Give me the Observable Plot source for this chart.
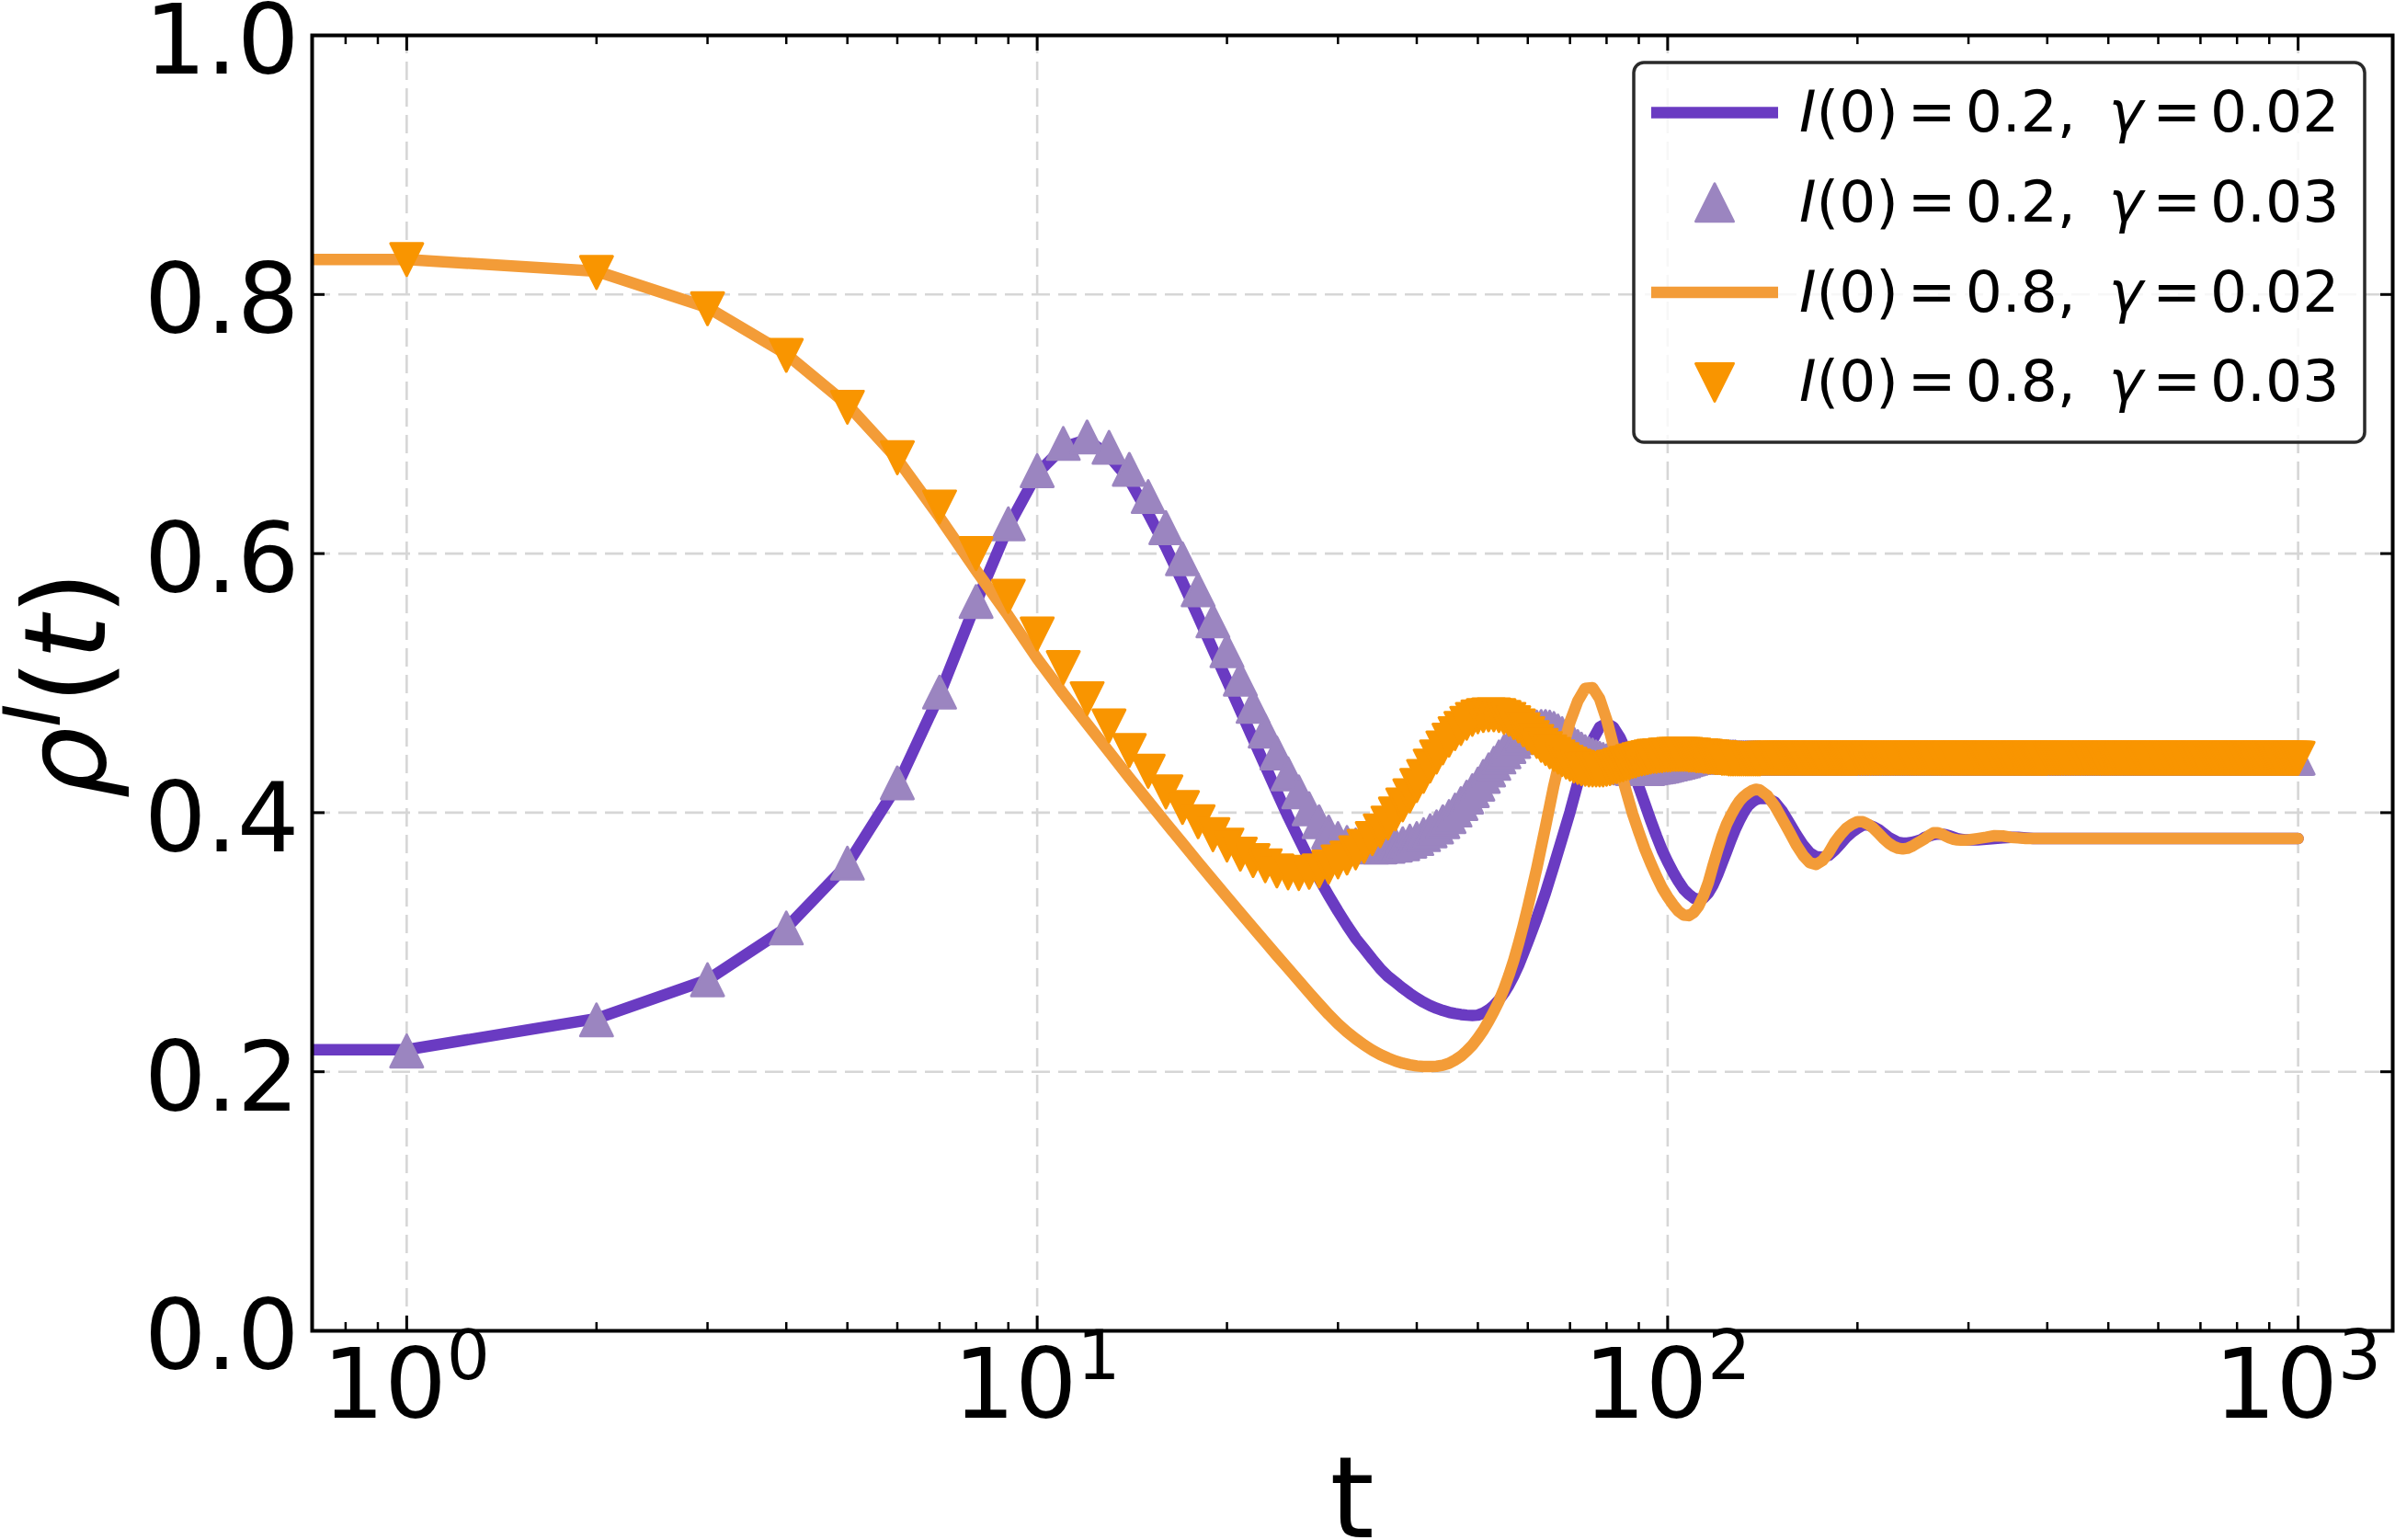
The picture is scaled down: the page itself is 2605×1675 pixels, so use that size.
<!DOCTYPE html>
<html>
<head>
<meta charset="utf-8">
<script src="https://cdn.jsdelivr.net/npm/d3@7"></script>
<script src="https://cdn.jsdelivr.net/npm/@observablehq/plot@0.6"></script>
<style>
  html, body { margin: 0; padding: 0; background: #fff; overflow: hidden; }
</style>
</head>
<body>
<div id="chart"></div>
<script>
// ---------------------------------------------------------------------------
// Infected density rho^I(t) for two initial conditions and two recovery rates
// ---------------------------------------------------------------------------

// Sample times of the solid curves (t = 0 is pinned to the left edge of the log axis)
const tLine = [0, ...d3.range(1, 61), ...d3.range(62, 141, 2), ...d3.range(144, 301, 4),
  ...d3.range(310, 401, 10), 450, 500, 600, 700, 800, 900, 1000];

// Sample times of the triangle markers
const tMarker = [...d3.range(1, 201), ...d3.range(202, 401, 2), ...d3.range(404, 1001, 4)];

// I(0) = 0.2, gamma = 0.02 (solid purple)
const rhoLowSlow = [
  0.217,
  0.217, 0.241, 0.271, 0.311, 0.360, 0.421, 0.491, 0.562, 0.621, 0.662,   // t 1-10
  0.682, 0.688, 0.6755, 0.657, 0.631, 0.605, 0.578, 0.5515, 0.526, 0.502, // t 11-20
  0.479, 0.457, 0.436, 0.416, 0.397, 0.380, 0.364, 0.349, 0.336, 0.324,   // t 21-30
  0.313, 0.303, 0.295, 0.287, 0.2796, 0.2736, 0.269, 0.2645, 0.2604, 0.2568, // t 31-40
  0.2537, 0.2511, 0.249, 0.2473, 0.2459, 0.2449, 0.2442, 0.2437, 0.2435, 0.2437, // t 41-50
  0.2453, 0.2477, 0.2511, 0.2554, 0.2607, 0.2669, 0.2741, 0.282, 0.291, 0.300, // t 51-60
  0.3185, 0.338, 0.359, 0.380, 0.4005, 0.4225, 0.442, 0.456, 0.466, 0.469, // t 62-80
  0.466, 0.458, 0.447, 0.434, 0.420, 0.407, 0.394, 0.382, 0.371, 0.362,   // t 82-100
  0.354, 0.347, 0.341, 0.337, 0.334, 0.333, 0.334, 0.338, 0.344, 0.352,   // t 102-120
  0.361, 0.370, 0.379, 0.387, 0.394, 0.400, 0.405, 0.408, 0.410, 0.411,   // t 122-140
  0.411, 0.408, 0.401, 0.392, 0.383, 0.375, 0.369, 0.366, 0.3655, 0.367,  // t 144-180
  0.371, 0.376, 0.381, 0.385, 0.388, 0.3905, 0.3905, 0.389, 0.387, 0.384, // t 184-220
  0.381, 0.379, 0.377, 0.3765, 0.3765, 0.377, 0.378, 0.379, 0.381, 0.382, // t 224-260
  0.383, 0.3835, 0.3835, 0.383, 0.382, 0.381, 0.380, 0.3795, 0.379, 0.379, // t 264-300
  0.379, 0.3795, 0.380, 0.3805, 0.381, 0.381, 0.3805, 0.380, 0.380, 0.380, // t 310-400
  0.380, 0.380, 0.380, 0.380, 0.380, 0.380, 0.380                          // t 450-1000
];

// I(0) = 0.8, gamma = 0.02 (solid orange)
const rhoHighSlow = [
  0.827,
  0.827, 0.818, 0.790, 0.754, 0.715, 0.673, 0.628, 0.587, 0.552, 0.519,   // t 1-10
  0.492, 0.4685, 0.447, 0.427, 0.409, 0.392, 0.3765, 0.3617, 0.348, 0.335, // t 11-20
  0.3227, 0.3112, 0.3002, 0.2897, 0.2798, 0.2702, 0.261, 0.2523, 0.2442, 0.237, // t 21-30
  0.2308, 0.2254, 0.2207, 0.2167, 0.2133, 0.2106, 0.2083, 0.2066, 0.2054, 0.2045, // t 31-40
  0.2041, 0.204, 0.2042, 0.205, 0.2065, 0.209, 0.212, 0.216, 0.2205, 0.226, // t 41-50
  0.232, 0.239, 0.2465, 0.2545, 0.264, 0.2745, 0.286, 0.299, 0.3125, 0.327, // t 51-60
  0.357, 0.389, 0.421, 0.448, 0.470, 0.486, 0.496, 0.4965, 0.488, 0.472,  // t 62-80
  0.452, 0.434, 0.416, 0.399, 0.385, 0.372, 0.361, 0.351, 0.342, 0.335,   // t 82-100
  0.329, 0.324, 0.321, 0.3205, 0.323, 0.328, 0.336, 0.346, 0.359, 0.371,  // t 102-120
  0.382, 0.391, 0.398, 0.404, 0.409, 0.4125, 0.415, 0.417, 0.418, 0.4175, // t 122-140
  0.413, 0.405, 0.395, 0.385, 0.375, 0.367, 0.3615, 0.360, 0.363, 0.369,  // t 144-180
  0.377, 0.383, 0.388, 0.391, 0.393, 0.393, 0.391, 0.388, 0.384, 0.380,   // t 184-220
  0.3765, 0.374, 0.3725, 0.372, 0.3725, 0.374, 0.376, 0.378, 0.380, 0.3825, // t 224-260
  0.3845, 0.3845, 0.3835, 0.382, 0.3805, 0.3795, 0.379, 0.3788, 0.3788, 0.379, // t 264-300
  0.380, 0.381, 0.3822, 0.382, 0.381, 0.3805, 0.380, 0.380, 0.380, 0.380, // t 310-400
  0.380, 0.380, 0.380, 0.380, 0.380, 0.380, 0.380                         // t 450-1000
];

// I(0) = 0.2, gamma = 0.03 (lavender up-triangles)
const rhoLowFast = [
  0.216, 0.240, 0.271, 0.311, 0.361, 0.423, 0.493, 0.563, 0.623, 0.664,   // t 1-10
  0.685, 0.690, 0.682, 0.665, 0.644, 0.620, 0.596, 0.572, 0.548, 0.525,   // t 11-20
  0.503, 0.482, 0.463, 0.446, 0.430, 0.416, 0.403, 0.393, 0.385, 0.380,   // t 21-30
  0.377, 0.375, 0.374, 0.3735, 0.3735, 0.374, 0.375, 0.376, 0.378, 0.380, // t 31-40
  0.383, 0.386, 0.389, 0.393, 0.397, 0.402, 0.407, 0.412, 0.417, 0.422,   // t 41-50
  0.428, 0.433, 0.438, 0.443, 0.447, 0.451, 0.455, 0.458, 0.461, 0.463,   // t 51-60
  0.465, 0.466, 0.4665, 0.4665, 0.466, 0.465, 0.463, 0.461, 0.458, 0.456, // t 61-70
  0.453, 0.451, 0.449, 0.447, 0.4455, 0.4445, 0.443, 0.442, 0.441, 0.440, // t 71-80
  0.439, 0.438, 0.437, 0.436, 0.4355, 0.435, 0.4345, 0.434, 0.434, 0.434, // t 81-90
  0.434, 0.434, 0.434, 0.4345, 0.435, 0.4353, 0.4356, 0.436, 0.4365, 0.437, // t 91-100
  0.4375, 0.438, 0.4385, 0.439, 0.4395, 0.440, 0.441, 0.4415, 0.442, 0.4425, // t 101-110
  0.443, 0.443, 0.443, 0.4435, 0.4435, 0.4435, 0.4435, 0.4435, 0.4435, 0.4435, // t 111-120
  0.4435, 0.443, 0.443, 0.443, 0.443, 0.443, 0.443, 0.443, 0.4425, 0.4425, // t 121-130
  0.4425, 0.4425, 0.4425, 0.4425, 0.4425, 0.4425, 0.4425, 0.4425, 0.4425, 0.4425, // t 131-140
  0.442, 0.442, 0.442, 0.442, 0.442, 0.442, 0.442, 0.442, 0.442, 0.442,   // t 141-150
  0.442, 0.442, 0.442, 0.442, 0.442, 0.442, 0.442, 0.442, 0.442, 0.442,   // t 151-160
  0.442, 0.442, 0.442, 0.442, 0.442, 0.442, 0.442, 0.442, 0.442, 0.442,   // t 161-170
  0.442, 0.442, 0.442, 0.442, 0.442, 0.442, 0.442, 0.442, 0.442, 0.442,   // t 171-180
  0.442, 0.442, 0.442, 0.442, 0.442, 0.442, 0.442, 0.442, 0.442, 0.442,   // t 181-190
  0.442, 0.442, 0.442, 0.442, 0.442, 0.442, 0.442, 0.442, 0.442, 0.442,   // t 191-200
  0.442, 0.442, 0.442, 0.442, 0.442, 0.442, 0.442, 0.442, 0.442, 0.442,   // t 202-220
  0.442, 0.442, 0.442, 0.442, 0.442, 0.442, 0.442, 0.442, 0.442, 0.442,   // t 222-240
  0.442, 0.442, 0.442, 0.442, 0.442, 0.442, 0.442, 0.442, 0.442, 0.442,   // t 242-260
  0.442, 0.442, 0.442, 0.442, 0.442, 0.442, 0.442, 0.442, 0.442, 0.442,   // t 262-280
  0.442, 0.442, 0.442, 0.442, 0.442, 0.442, 0.442, 0.442, 0.442, 0.442,   // t 282-300
  0.442, 0.442, 0.442, 0.442, 0.442, 0.442, 0.442, 0.442, 0.442, 0.442,   // t 302-320
  0.442, 0.442, 0.442, 0.442, 0.442, 0.442, 0.442, 0.442, 0.442, 0.442,   // t 322-340
  0.442, 0.442, 0.442, 0.442, 0.442, 0.442, 0.442, 0.442, 0.442, 0.442,   // t 342-360
  0.442, 0.442, 0.442, 0.442, 0.442, 0.442, 0.442, 0.442, 0.442, 0.442,   // t 362-380
  0.442, 0.442, 0.442, 0.442, 0.442, 0.442, 0.442, 0.442, 0.442, 0.442,   // t 382-400
  0.442, 0.442, 0.442, 0.442, 0.442, 0.442, 0.442, 0.442, 0.442, 0.442,   // t 404-440
  0.442, 0.442, 0.442, 0.442, 0.442, 0.442, 0.442, 0.442, 0.442, 0.442,   // t 444-480
  0.442, 0.442, 0.442, 0.442, 0.442, 0.442, 0.442, 0.442, 0.442, 0.442,   // t 484-520
  0.442, 0.442, 0.442, 0.442, 0.442, 0.442, 0.442, 0.442, 0.442, 0.442,   // t 524-560
  0.442, 0.442, 0.442, 0.442, 0.442, 0.442, 0.442, 0.442, 0.442, 0.442,   // t 564-600
  0.442, 0.442, 0.442, 0.442, 0.442, 0.442, 0.442, 0.442, 0.442, 0.442,   // t 604-640
  0.442, 0.442, 0.442, 0.442, 0.442, 0.442, 0.442, 0.442, 0.442, 0.442,   // t 644-680
  0.442, 0.442, 0.442, 0.442, 0.442, 0.442, 0.442, 0.442, 0.442, 0.442,   // t 684-720
  0.442, 0.442, 0.442, 0.442, 0.442, 0.442, 0.442, 0.442, 0.442, 0.442,   // t 724-760
  0.442, 0.442, 0.442, 0.442, 0.442, 0.442, 0.442, 0.442, 0.442, 0.442,   // t 764-800
  0.442, 0.442, 0.442, 0.442, 0.442, 0.442, 0.442, 0.442, 0.442, 0.442,   // t 804-840
  0.442, 0.442, 0.442, 0.442, 0.442, 0.442, 0.442, 0.442, 0.442, 0.442,   // t 844-880
  0.442, 0.442, 0.442, 0.442, 0.442, 0.442, 0.442, 0.442, 0.442, 0.442,   // t 884-920
  0.442, 0.442, 0.442, 0.442, 0.442, 0.442, 0.442, 0.442, 0.442, 0.442,   // t 924-960
  0.442, 0.442, 0.442, 0.442, 0.442, 0.442, 0.442, 0.442, 0.442, 0.442    // t 964-1000
];

// I(0) = 0.8, gamma = 0.03 (orange down-triangles)
const rhoHighFast = [
  0.827, 0.817, 0.789, 0.753, 0.713, 0.674, 0.636, 0.600, 0.567, 0.538,   // t 1-10
  0.512, 0.488, 0.467, 0.448, 0.432, 0.416, 0.404, 0.393, 0.383, 0.375,   // t 11-20
  0.368, 0.363, 0.359, 0.355, 0.3535, 0.353, 0.354, 0.355, 0.358, 0.362,  // t 21-30
  0.365, 0.369, 0.374, 0.380, 0.386, 0.392, 0.399, 0.406, 0.413, 0.421,   // t 31-40
  0.428, 0.436, 0.443, 0.450, 0.456, 0.461, 0.465, 0.469, 0.472, 0.474,   // t 41-50
  0.475, 0.4755, 0.4755, 0.475, 0.4735, 0.472, 0.4695, 0.467, 0.464, 0.461, // t 51-60
  0.458, 0.455, 0.452, 0.4495, 0.447, 0.445, 0.443, 0.441, 0.439, 0.4375, // t 61-70
  0.436, 0.435, 0.434, 0.4335, 0.433, 0.433, 0.433, 0.433, 0.433, 0.4335, // t 71-80
  0.434, 0.435, 0.4355, 0.4365, 0.437, 0.438, 0.4385, 0.4395, 0.440, 0.441, // t 81-90
  0.4415, 0.442, 0.4425, 0.443, 0.4435, 0.4435, 0.444, 0.444, 0.4445, 0.4445, // t 91-100
  0.4445, 0.445, 0.445, 0.445, 0.445, 0.445, 0.445, 0.4445, 0.4445, 0.4445, // t 101-110
  0.444, 0.444, 0.444, 0.4435, 0.4435, 0.443, 0.443, 0.443, 0.4425, 0.4425, // t 111-120
  0.4425, 0.442, 0.442, 0.442, 0.4415, 0.4415, 0.4415, 0.4415, 0.4415, 0.4415, // t 121-130
  0.4415, 0.4415, 0.4415, 0.4415, 0.4415, 0.4415, 0.4415, 0.4415, 0.4415, 0.4415, // t 131-140
  0.442, 0.442, 0.442, 0.442, 0.442, 0.442, 0.442, 0.442, 0.442, 0.442,   // t 141-150
  0.442, 0.442, 0.442, 0.442, 0.442, 0.442, 0.442, 0.442, 0.442, 0.442,   // t 151-160
  0.442, 0.442, 0.442, 0.442, 0.442, 0.442, 0.442, 0.442, 0.442, 0.442,   // t 161-170
  0.442, 0.442, 0.442, 0.442, 0.442, 0.442, 0.442, 0.442, 0.442, 0.442,   // t 171-180
  0.442, 0.442, 0.442, 0.442, 0.442, 0.442, 0.442, 0.442, 0.442, 0.442,   // t 181-190
  0.442, 0.442, 0.442, 0.442, 0.442, 0.442, 0.442, 0.442, 0.442, 0.442,   // t 191-200
  0.442, 0.442, 0.442, 0.442, 0.442, 0.442, 0.442, 0.442, 0.442, 0.442,   // t 202-220
  0.442, 0.442, 0.442, 0.442, 0.442, 0.442, 0.442, 0.442, 0.442, 0.442,   // t 222-240
  0.442, 0.442, 0.442, 0.442, 0.442, 0.442, 0.442, 0.442, 0.442, 0.442,   // t 242-260
  0.442, 0.442, 0.442, 0.442, 0.442, 0.442, 0.442, 0.442, 0.442, 0.442,   // t 262-280
  0.442, 0.442, 0.442, 0.442, 0.442, 0.442, 0.442, 0.442, 0.442, 0.442,   // t 282-300
  0.442, 0.442, 0.442, 0.442, 0.442, 0.442, 0.442, 0.442, 0.442, 0.442,   // t 302-320
  0.442, 0.442, 0.442, 0.442, 0.442, 0.442, 0.442, 0.442, 0.442, 0.442,   // t 322-340
  0.442, 0.442, 0.442, 0.442, 0.442, 0.442, 0.442, 0.442, 0.442, 0.442,   // t 342-360
  0.442, 0.442, 0.442, 0.442, 0.442, 0.442, 0.442, 0.442, 0.442, 0.442,   // t 362-380
  0.442, 0.442, 0.442, 0.442, 0.442, 0.442, 0.442, 0.442, 0.442, 0.442,   // t 382-400
  0.442, 0.442, 0.442, 0.442, 0.442, 0.442, 0.442, 0.442, 0.442, 0.442,   // t 404-440
  0.442, 0.442, 0.442, 0.442, 0.442, 0.442, 0.442, 0.442, 0.442, 0.442,   // t 444-480
  0.442, 0.442, 0.442, 0.442, 0.442, 0.442, 0.442, 0.442, 0.442, 0.442,   // t 484-520
  0.442, 0.442, 0.442, 0.442, 0.442, 0.442, 0.442, 0.442, 0.442, 0.442,   // t 524-560
  0.442, 0.442, 0.442, 0.442, 0.442, 0.442, 0.442, 0.442, 0.442, 0.442,   // t 564-600
  0.442, 0.442, 0.442, 0.442, 0.442, 0.442, 0.442, 0.442, 0.442, 0.442,   // t 604-640
  0.442, 0.442, 0.442, 0.442, 0.442, 0.442, 0.442, 0.442, 0.442, 0.442,   // t 644-680
  0.442, 0.442, 0.442, 0.442, 0.442, 0.442, 0.442, 0.442, 0.442, 0.442,   // t 684-720
  0.442, 0.442, 0.442, 0.442, 0.442, 0.442, 0.442, 0.442, 0.442, 0.442,   // t 724-760
  0.442, 0.442, 0.442, 0.442, 0.442, 0.442, 0.442, 0.442, 0.442, 0.442,   // t 764-800
  0.442, 0.442, 0.442, 0.442, 0.442, 0.442, 0.442, 0.442, 0.442, 0.442,   // t 804-840
  0.442, 0.442, 0.442, 0.442, 0.442, 0.442, 0.442, 0.442, 0.442, 0.442,   // t 844-880
  0.442, 0.442, 0.442, 0.442, 0.442, 0.442, 0.442, 0.442, 0.442, 0.442,   // t 884-920
  0.442, 0.442, 0.442, 0.442, 0.442, 0.442, 0.442, 0.442, 0.442, 0.442,   // t 924-960
  0.442, 0.442, 0.442, 0.442, 0.442, 0.442, 0.442, 0.442, 0.442, 0.442    // t 964-1000
];

// Legend entries (initial infected fraction and recovery rate)
const legendI0 = ["0.2", "0.2", "0.8", "0.8"];
const legendGamma = ["0.02", "0.03", "0.02", "0.03"];

// Axis ticks
const xMajorTicks = [1, 10, 100, 1000];
const xTickExponents = [0, 1, 2, 3];
const xMinorTicks = [0.8, 0.9, 2, 3, 4, 5, 6, 7, 8, 9, 20, 30, 40, 50, 60, 70, 80, 90,
  200, 300, 400, 500, 600, 700, 800, 900];
const yTicks = [0, 0.2, 0.4, 0.6, 0.8, 1.0];

// ---------------------------------------------------------------------------
const colors = {
  lowSlow: "#6a3bc2",
  lowFast: "#9b85c0",
  highSlow: "#f39c38",
  highFast: "#f99500"
};

for (const [name, arr, ts] of [["rhoLowSlow", rhoLowSlow, tLine], ["rhoHighSlow", rhoHighSlow, tLine],
  ["rhoLowFast", rhoLowFast, tMarker], ["rhoHighFast", rhoHighFast, tMarker]]) {
  if (arr.length !== ts.length) throw new Error(`${name}: ${arr.length} values for ${ts.length} times`);
}

const zip = (ts, vs) => ts.map((t, i) => ({t, rho: vs[i]}));
const lowSlow = zip(tLine, rhoLowSlow);
const highSlow = zip(tLine, rhoHighSlow);
const lowFast = zip(tMarker, rhoLowFast);
const highFast = zip(tMarker, rhoHighFast);

// Triangles with equal width and height, centred on their bounding box
const triangleUp = {
  draw(ctx, size) {
    const h = Math.sqrt(size / Math.PI);
    ctx.moveTo(0, -h); ctx.lineTo(h, h); ctx.lineTo(-h, h); ctx.closePath();
  }
};
const triangleDown = {
  draw(ctx, size) {
    const h = Math.sqrt(size / Math.PI);
    ctx.moveTo(0, h); ctx.lineTo(h, -h); ctx.lineTo(-h, -h); ctx.closePath();
  }
};

// t = 0 cannot sit on a log axis: clip it far to the left, as a log plot does
const xTime = d => (d.t > 0 ? d.t : 1e-3);

const gridStyle = {stroke: "#d6d6d6", strokeOpacity: 1, strokeWidth: 2.6, strokeDasharray: "20,9"};
const markerR = 17.5;
const lineWidth = 12.5;

const chart = Plot.plot({
  width: 2605,
  height: 1675,
  marginLeft: 339,
  marginRight: 3,
  marginTop: 38,
  marginBottom: 228,
  style: {fontFamily: "DejaVu Sans", fontSize: "106px", color: "black", background: "white"},
  x: {type: "log", domain: [10 ** -0.15, 10 ** 3.15], label: null},
  y: {domain: [0, 1], label: null},
  marks: [
    Plot.gridX(xMajorTicks, gridStyle),
    Plot.gridY(yTicks.slice(1, -1), gridStyle),

    Plot.line(lowSlow, {x: xTime, y: "rho", stroke: colors.lowSlow, strokeWidth: lineWidth, clip: true}),
    Plot.dot(lowFast, {x: "t", y: "rho", symbol: triangleUp, r: markerR, fill: colors.lowFast,
      stroke: colors.lowFast, strokeWidth: 3, strokeLinejoin: "round", clip: true}),
    Plot.line(highSlow, {x: xTime, y: "rho", stroke: colors.highSlow, strokeWidth: lineWidth, clip: true}),
    Plot.dot(highFast, {x: "t", y: "rho", symbol: triangleDown, r: markerR, fill: colors.highFast,
      stroke: colors.highFast, strokeWidth: 3, strokeLinejoin: "round", clip: true}),

    Plot.frame({stroke: "black", strokeWidth: 4}),

    // inward ticks on all four sides
    Plot.axisX(xMajorTicks, {anchor: "bottom", tickSize: -16, strokeWidth: 3, fill: "none", label: null}),
    Plot.axisX(xMajorTicks, {anchor: "top", tickSize: -16, strokeWidth: 3, fill: "none", label: null}),
    Plot.axisX(xMinorTicks, {anchor: "bottom", tickSize: -9, strokeWidth: 2.5, fill: "none", label: null}),
    Plot.axisX(xMinorTicks, {anchor: "top", tickSize: -9, strokeWidth: 2.5, fill: "none", label: null}),
    Plot.axisY(yTicks, {anchor: "left", tickSize: -14, strokeWidth: 3, fill: "none", label: null}),
    Plot.axisY(yTicks, {anchor: "right", tickSize: -14, strokeWidth: 3, fill: "none", label: null}),

    // y tick labels
    Plot.axisY(yTicks, {anchor: "left", tickSize: 0, tickPadding: 14, tickFormat: d3.format(".1f"),
      fontSize: 106, dy: 8, label: null})
  ]
});

document.getElementById("chart").appendChild(chart);

const svg = d3.select(chart);
const sx = chart.scale("x");
const font = "DejaVu Sans";

// x tick labels 10^k
const xLabels = svg.append("g").attr("font-family", font).attr("fill", "black");
xMajorTicks.forEach((v, i) => {
  const t = xLabels.append("text")
    .attr("x", sx.apply(v)).attr("y", 1542)
    .attr("text-anchor", "middle").attr("font-size", 106);
  t.append("tspan").text("10");
  t.append("tspan").attr("font-size", 74).attr("dy", -42).text(String(xTickExponents[i]));
});

// axis titles
svg.append("text")
  .attr("x", (339 + 2602) / 2).attr("y", 1672)
  .attr("text-anchor", "middle").attr("font-family", font).attr("font-size", 123)
  .text("t");

const yTitle = svg.append("text")
  .attr("transform", "translate(114,745) rotate(-90)")
  .attr("text-anchor", "middle").attr("font-family", font).attr("font-size", 123);
yTitle.append("tspan").attr("font-style", "italic").text("ρ");
yTitle.append("tspan").attr("font-style", "italic").attr("font-size", 86).attr("dy", -49).text("I");
yTitle.append("tspan").attr("dy", 49).text("(");
yTitle.append("tspan").attr("font-style", "italic").text("t");
yTitle.append("tspan").text(")");

// legend
const legend = svg.append("g").attr("font-family", font).attr("text-anchor", "start");
legend.append("rect")
  .attr("x", 1777).attr("y", 68).attr("width", 795).attr("height", 413).attr("rx", 11)
  .attr("fill", "white").attr("fill-opacity", 0.8)
  .attr("stroke", "#2a2a2a").attr("stroke-width", 3.5);

const legendHandles = [
  {kind: "line", color: colors.lowSlow},
  {kind: "marker", color: colors.lowFast, symbol: triangleUp},
  {kind: "line", color: colors.highSlow},
  {kind: "marker", color: colors.highFast, symbol: triangleDown}
];
legendHandles.forEach((h, i) => {
  const base = 143 + i * 97.8;
  const cy = base - 20.5;
  if (h.kind === "line") {
    legend.append("line").attr("x1", 1796).attr("x2", 1934).attr("y1", cy).attr("y2", cy)
      .attr("stroke", h.color).attr("stroke-width", lineWidth);
  } else {
    legend.append("path").attr("transform", `translate(1865,${cy})`)
      .attr("d", d3.symbol(h.symbol, Math.PI * 20.5 * 20.5)())
      .attr("fill", h.color).attr("stroke", h.color).attr("stroke-width", 3).attr("stroke-linejoin", "round");
  }
  const tx = legend.append("text").attr("x", 1957).attr("y", base)
    .attr("text-anchor", "start").attr("font-size", 63).attr("fill", "black");
  tx.append("tspan").attr("font-style", "italic").text("I");
  tx.append("tspan").text("(0)");
  tx.append("tspan").attr("dx", 10).text("=");
  tx.append("tspan").attr("dx", 10).text(legendI0[i] + ",");
  tx.append("tspan").attr("dx", 36).attr("font-style", "italic").text("γ");
  tx.append("tspan").attr("dx", 10).text("=");
  tx.append("tspan").attr("dx", 10).text(legendGamma[i]);
});
</script>
</body>
</html>
